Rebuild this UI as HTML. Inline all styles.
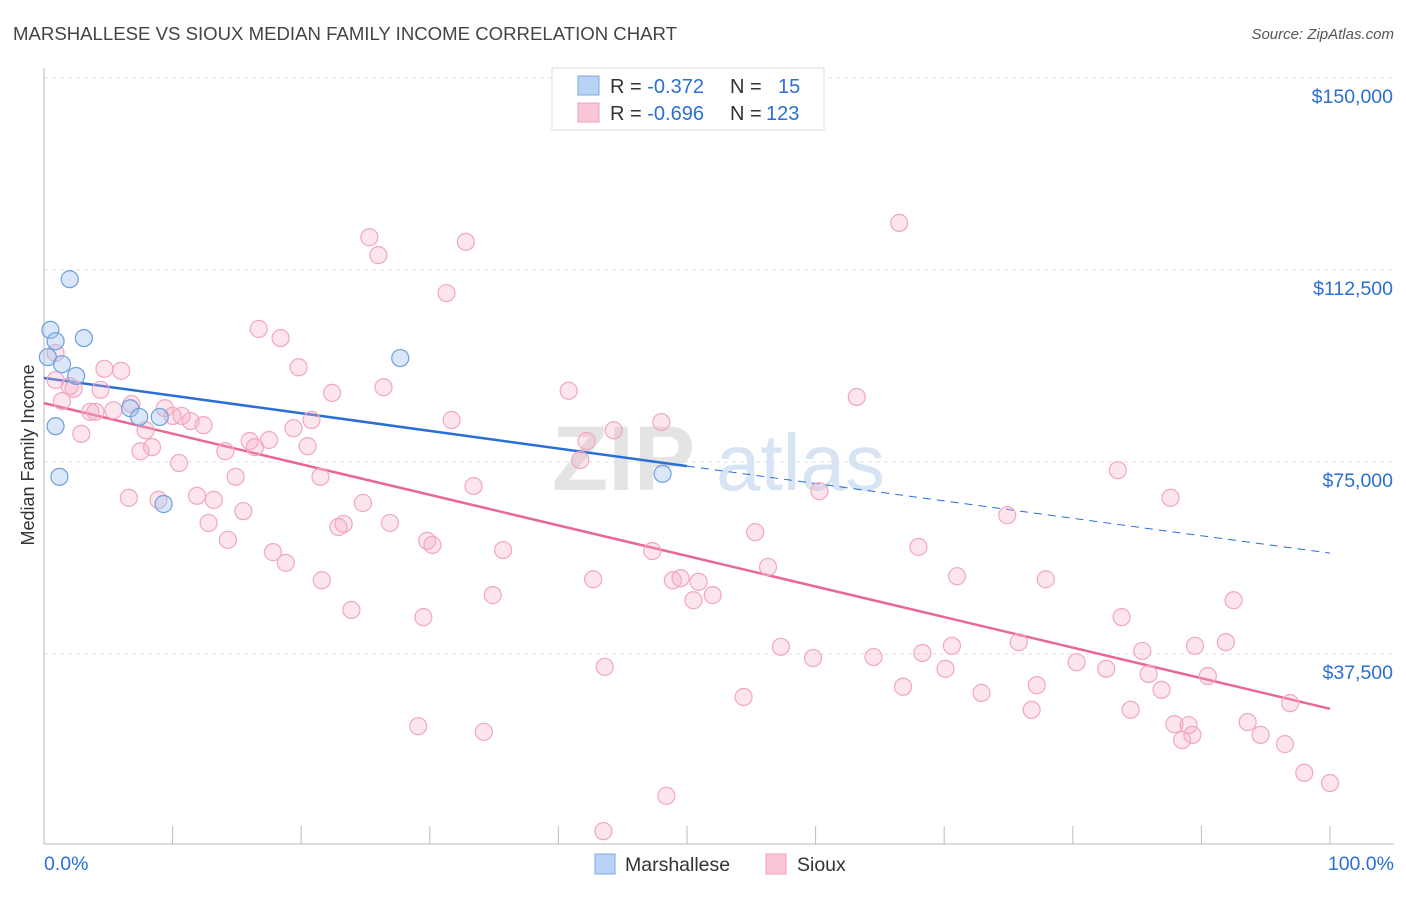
<!DOCTYPE html>
<html><head><meta charset="utf-8"><style>
body{margin:0;background:#fff;font-family:"Liberation Sans",sans-serif;}
svg text{font-family:"Liberation Sans",sans-serif;}
</style></head><body>
<svg id="chart" width="1406" height="892">
<text x="13" y="40" font-size="18.6" fill="#444">MARSHALLESE VS SIOUX MEDIAN FAMILY INCOME CORRELATION CHART</text>
<text x="1394" y="39" font-size="15" fill="#555" font-style="italic" text-anchor="end">Source: ZipAtlas.com</text>
<g><text x="552" y="490" font-size="92" fill="#e4e4e4" font-family="Liberation Serif" font-weight="bold">ZIP</text><text x="716" y="490" font-size="80" fill="#d6e4f4">atlas</text></g>
<g id="grid"></g><g id="axes"></g><g id="lines"></g><g id="points"></g>
<text x="34" y="455" font-size="18" fill="#333" text-anchor="middle" transform="rotate(-90 34 455)">Median Family Income</text>
<g>
<rect x="552" y="68" width="272" height="62" fill="#fff" stroke="#ddd"/>
<rect x="578" y="76" width="21" height="19" fill="#b8d3f5" stroke="#7aa8e0"/>
<rect x="578" y="103" width="21" height="19" fill="#f9c6d6" stroke="#f0a0bc"/>
<text x="610" y="93" font-size="20" fill="#333">R = <tspan fill="#2a6fd6">-0.372</tspan><tspan x="730">N = </tspan><tspan x="778" fill="#2a6fd6">15</tspan></text>
<text x="610" y="120" font-size="20" fill="#333">R = <tspan fill="#2a6fd6">-0.696</tspan><tspan x="730">N = </tspan><tspan x="766" fill="#2a6fd6">123</tspan></text>
</g>
<g>
<rect x="595" y="854" width="20" height="20" fill="#b8d3f5" stroke="#7aa8e0"/>
<text x="625" y="871" font-size="19.5" fill="#333">Marshallese</text>
<rect x="766" y="854" width="20" height="20" fill="#f9c6d6" stroke="#f0a0bc"/>
<text x="797" y="871" font-size="19.5" fill="#333">Sioux</text>
</g>
</svg>
<script>
const yTicks=[37500,75000,112500,150000];
const yTickLabels=["$37,500","$75,000","$112,500","$150,000"];
const xTickLabels=["0.0%","100.0%"];
const blueX=[0.3,0.5,0.9,2.0,3.1,1.4,2.5,0.9,1.2,6.7,7.4,9.0,9.3,27.7,48.1];
const blueY=[95.5,100.8,98.6,110.7,99.2,94.1,91.8,82.0,72.1,85.5,83.8,83.8,66.8,95.3,72.7];
const pinkX=[0.9,0.9,1.4,2.0,2.3,2.9,3.6,4.0,4.4,4.7,5.4,6.0,6.6,6.8,7.5,7.9,8.4,8.9,9.4,10.0,10.5,10.7,11.4,11.9,12.4,12.8,13.2,14.1,14.3,14.9,15.5,16.0,16.4,16.7,17.5,17.8,18.4,18.8,19.4,19.8,20.5,20.8,21.5,21.6,22.4,22.9,23.3,23.9,24.8,25.3,26.0,26.4,26.9,29.5,29.1,29.8,30.2,31.3,31.7,32.8,33.4,34.2,34.9,35.7,40.8,41.7,42.2,42.7,43.6,44.3,43.5,47.3,48.0,48.4,48.9,49.5,50.5,50.9,52.0,54.4,55.3,56.3,57.3,59.8,60.3,63.2,64.5,66.5,66.8,68.0,68.3,70.1,70.6,71.0,72.9,74.9,75.8,76.8,77.2,77.9,80.3,82.6,83.5,83.8,84.5,85.4,85.9,86.9,87.6,87.9,88.5,89.0,89.3,89.5,90.5,91.9,92.5,93.6,94.6,96.5,96.9,98.0,100.0];
const pinkY=[96.3,91.0,86.9,89.8,89.3,80.5,84.8,84.8,89.1,93.2,85.1,92.8,68.0,86.3,77.1,81.2,77.9,67.6,85.5,84.0,74.8,84.0,83.0,68.4,82.2,63.1,67.6,77.1,59.8,72.1,65.4,79.1,77.9,101.0,79.3,57.4,99.2,55.3,81.6,93.5,78.1,83.2,72.1,51.9,88.5,62.3,62.9,46.1,67.0,118.9,115.4,89.6,63.1,44.7,23.4,59.6,58.8,108.0,83.2,118.0,70.3,22.3,49.0,57.8,88.9,75.4,79.1,52.1,35.0,81.2,2.9,57.6,82.8,9.8,51.9,52.3,48.0,51.6,49.0,29.1,61.3,54.5,38.9,36.7,69.3,87.7,36.9,121.7,31.1,58.4,37.7,34.6,39.1,52.7,29.9,64.6,39.8,26.6,31.4,52.1,35.9,34.6,73.4,44.7,26.6,38.1,33.6,30.5,68.0,23.8,20.7,23.6,21.7,39.1,33.2,39.8,48.0,24.2,21.7,19.9,27.9,14.3,12.3];
const blueLine=[91.4,74.2,57.2]; // at 0%, 50% (solid end), 100%
const pinkLine=[86.5,26.8]; // at 0%, 100%

const NS="http://www.w3.org/2000/svg";
const X0=44,X1=1330,YB=846,PX_PER_K=192/37.5;
const sx=v=>X0+(X1-X0)*v/100;
const sy=k=>YB-k*PX_PER_K;
function mk(tag,attrs,parent){const e=document.createElementNS(NS,tag);for(const k in attrs)e.setAttribute(k,attrs[k]);document.getElementById(parent).appendChild(e);return e;}
yTicks.forEach((t,i)=>{
  const y=sy(t/1000);
  const g=mk('line',{x1:X0,x2:1394,y1:y,y2:y,stroke:'#e2e2e2','stroke-dasharray':'4 4'},'grid');
  
  
  const tx=mk('text',{x:1393,y:y+25,'font-size':19.5,fill:'#2a6fd6','text-anchor':'end'},'axes');
  tx.textContent=yTickLabels[i];
  
  
});
const ax=mk('line',{x1:X0,x2:1394,y1:844,y2:844,stroke:'#bbb'},'axes');


const ay=mk('line',{x1:X0,x2:X0,y1:68,y2:844,stroke:'#bbb'},'axes');


for(let i=0;i<=10;i++){const x=sx(i*10);const t=mk('line',{x1:x,x2:x,y1:826,y2:844,stroke:'#bbb'},'axes');

}
[[0,'start',44],[100,'end',1394]].forEach((d,i)=>{const t=mk('text',{x:d[2],y:870,'font-size':19.5,fill:'#2a6fd6','text-anchor':d[1]},'axes');t.textContent=xTickLabels[i];

});
const bl=mk('line',{x1:sx(0),y1:sy(blueLine[0]),x2:sx(50),y2:sy(blueLine[1]),stroke:'#2a6fd6','stroke-width':2.5},'lines');


const bd=mk('line',{x1:sx(50),y1:sy(blueLine[1]),x2:sx(100),y2:sy(blueLine[2]),stroke:'#2a6fd6','stroke-width':1,'stroke-dasharray':'8 6'},'lines');


pinkX.forEach((x,i)=>{const c=mk('circle',{cx:sx(x),cy:sy(pinkY[i]),r:8.5,fill:'rgba(246,170,195,0.3)',stroke:'#f2a6c0','stroke-width':1.2},'points');

});
blueX.forEach((x,i)=>{const c=mk('circle',{cx:sx(x),cy:sy(blueY[i]),r:8.5,fill:'rgba(160,195,240,0.4)',stroke:'#6f9fdc','stroke-width':1.2},'points');

});
const pl=mk('line',{x1:sx(0),y1:sy(pinkLine[0]),x2:sx(100),y2:sy(pinkLine[1]),stroke:'#e8679a','stroke-width':2.5},'lines');


</script>
</body></html>
